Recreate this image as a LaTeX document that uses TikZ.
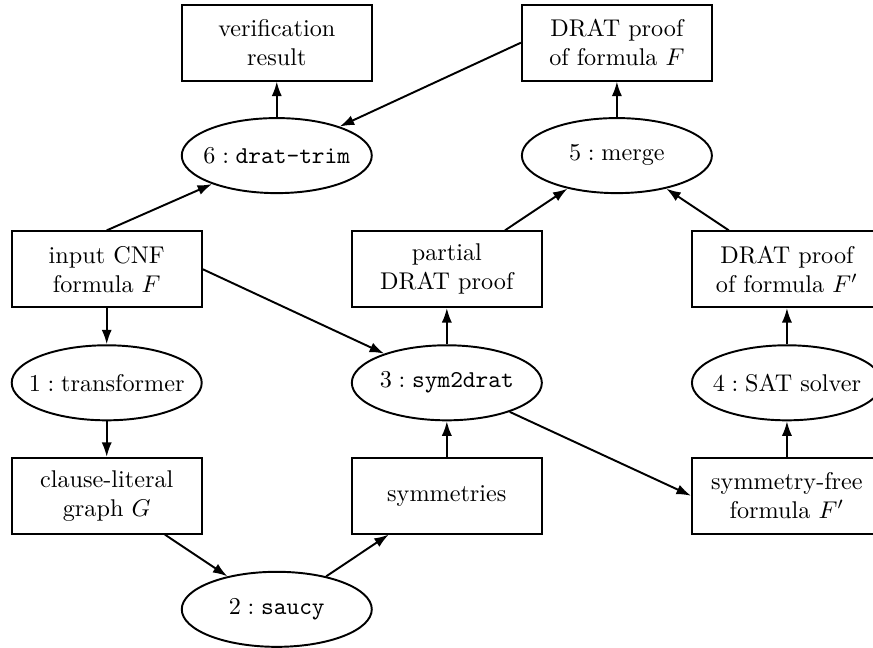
\documentclass[tikz,border=0pt]{standalone}
\usepackage{amsmath}
\usepackage{tikz}
\usetikzlibrary{arrows.meta,positioning,shapes.geometric}

\begin{document}
\begin{tikzpicture}[
  box/.style={rectangle, draw, thick, minimum width=2.76cm, minimum height=1.1cm, align=center},
  proc/.style={ellipse, draw, thick, minimum width=2.76cm, minimum height=1.09cm, inner xsep=-4.5pt, inner ysep=0pt},
  arr/.style={-{Latex[length=6pt,width=4.2pt]}, thick}
]
\useasboundingbox (0,0) rectangle (12.68,-9.41);

% Top row: outputs
\node[box] (verif) at (4.02,-0.62) {verification\\result};
\node[box] (proofF) at (8.96,-0.62) {DRAT proof\\of formula $F$};

% Checking and merging
\node[proc] (drattrim) at (4.02,-2.26) {$6 : \texttt{drat-trim}$};
\node[proc] (merge) at (8.96,-2.26) {$5 : \text{merge}$};
\draw[arr] (drattrim) -- (verif);
\draw[arr] (merge) -- (proofF);
\draw[arr] (proofF.west) -- (drattrim);

% Input and partial proofs
\node[box] (input) at (1.55,-3.91) {input CNF\\formula $F$};
\node[box] (partial) at (6.49,-3.91) {partial\\DRAT proof};
\node[box] (proofFp) at (11.43,-3.91) {DRAT proof\\of formula $F'$};
\draw[arr] (input.north) -- (drattrim);
\draw[arr] (partial) -- (merge);
\draw[arr] (proofFp) -- (merge);

% Tools
\node[proc] (transf) at (1.55,-5.56) {$1 : \text{transformer}$};
\node[proc] (sym2drat) at (6.49,-5.56) {$3 : \texttt{sym2drat}$};
\node[proc] (solver) at (11.43,-5.56) {$4 : \text{SAT solver}$};
\draw[arr] (input) -- (transf);
\draw[arr] (input.east) -- (sym2drat);
\draw[arr] (sym2drat) -- (partial);
\draw[arr] (solver) -- (proofFp);

% Intermediate data
\node[box] (graph) at (1.55,-7.20) {clause-literal\\graph $G$};
\node[box] (syms) at (6.49,-7.20) {symmetries};
\node[box] (symfree) at (11.43,-7.20) {symmetry-free\\formula $F'$};
\draw[arr] (transf) -- (graph);
\draw[arr] (syms) -- (sym2drat);
\draw[arr] (sym2drat) -- (symfree.west);
\draw[arr] (symfree) -- (solver);

% Symmetry detection
\node[proc] (saucy) at (4.02,-8.85) {$2 : \texttt{saucy}$};
\draw[arr] (graph) -- (saucy);
\draw[arr] (saucy) -- (syms);

\end{tikzpicture}
\end{document}
